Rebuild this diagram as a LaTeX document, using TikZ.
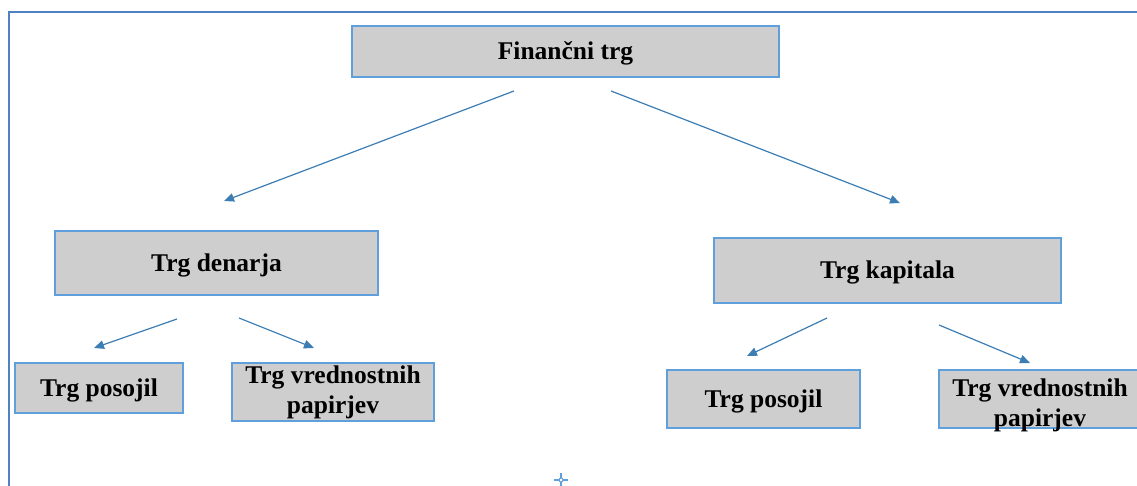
\documentclass[tikz,border=0pt]{standalone}
\usepackage{fontspec}
\setmainfont{Liberation Serif}
\usetikzlibrary{arrows.meta}
\definecolor{boxfill}{RGB}{205,206,205}
\definecolor{boxline}{RGB}{95,160,220}
\definecolor{arrowc}{RGB}{60,125,180}
\definecolor{framec}{RGB}{80,130,195}
\tikzset{
  box/.style={draw=boxline, line width=1.5pt, fill=boxfill, inner sep=0pt,
    font=\fontsize{25.5}{30}\selectfont\bfseries, align=center},
  onebox/.style={box, text height=16.8pt, text depth=0pt},
  link/.style={draw=arrowc, line width=1.2pt, -{Triangle[length=10pt,width=8.5pt]}},
}
\begin{document}
\begin{tikzpicture}[x=1pt,y=-1pt]
\useasboundingbox (0,0) rectangle (1137,486);
% frame
\draw[framec, line width=2pt] (9,490) -- (9,12) -- (1140,12);
% boxes
\node[onebox, minimum width=427pt, minimum height=51pt] (fin) at (565.5,51.5) {Finančni trg};
\node[onebox, minimum width=323pt, minimum height=64pt] (den) at (216.5,263) {Trg denarja};
\node[onebox, minimum width=347pt, minimum height=65pt] (kap) at (887.5,270.5) {Trg kapitala};
\node[onebox, minimum width=168pt, minimum height=50pt] (lp) at (99,388) {Trg posojil};
\node[box, minimum width=202pt, minimum height=58pt, text height=43pt, text depth=0pt] (lv) at (333,392) {Trg vrednostnih\\papirjev};
\node[onebox, minimum width=193pt, minimum height=58pt] (rp) at (763.5,399) {Trg posojil};
\node[box, minimum width=202pt, minimum height=58pt, text height=54pt, text depth=0pt] (rv) at (1040,399) {Trg vrednostnih\\papirjev};
% arrow end points
\coordinate (f1) at (514,91);  \coordinate (d0) at (224,201);
\coordinate (f2) at (611,91);  \coordinate (k0) at (900,203);
\coordinate (d1) at (177,319); \coordinate (lp0) at (94,348);
\coordinate (d2) at (239,318); \coordinate (lv0) at (314,348);
\coordinate (k1) at (827,318); \coordinate (rp0) at (747,356);
\coordinate (k2) at (939,325); \coordinate (rv0) at (1030,363);
\draw[link] (f1) -- (d0);
\draw[link] (f2) -- (k0);
\draw[link] (d1) -- (lp0);
\draw[link] (d2) -- (lv0);
\draw[link] (k1) -- (rp0);
\draw[link] (k2) -- (rv0);
% cursor cross
\coordinate (cross) at (561,480);
\draw[boxline, line width=1.2pt] ([xshift=-7pt]cross) -- ([xshift=7pt]cross)
  ([yshift=-7pt]cross) -- ([yshift=7pt]cross);
\draw[boxline, line width=1pt, fill=white] (cross) circle (2pt);
\end{tikzpicture}
\end{document}
